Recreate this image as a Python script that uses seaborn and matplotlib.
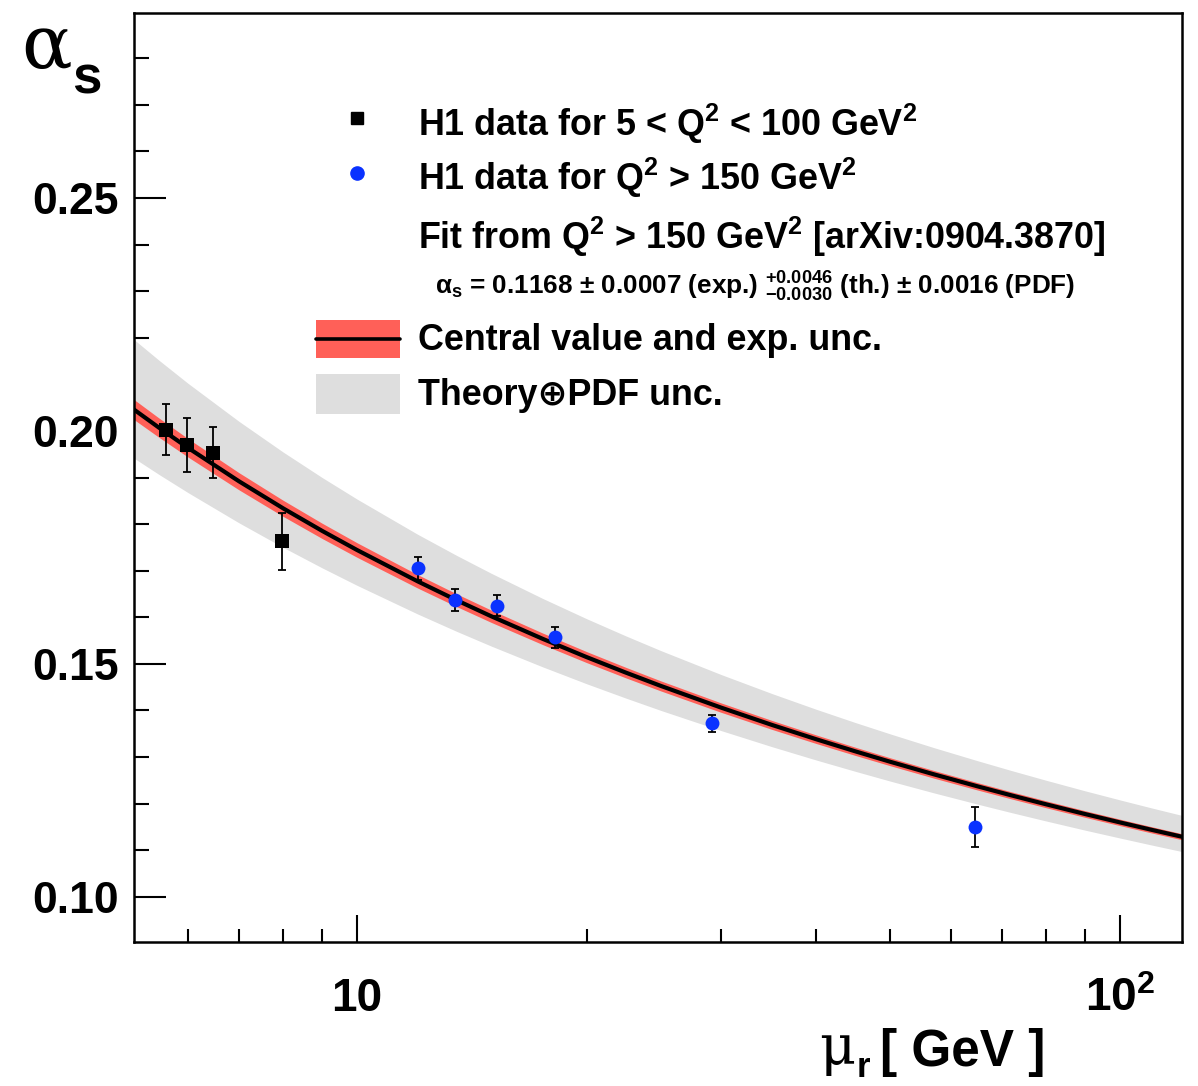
import numpy as np
import pandas as pd
import matplotlib
matplotlib.use("Agg")
import matplotlib.pyplot as plt
import matplotlib.ticker as mticker
from matplotlib.patches import Rectangle
from matplotlib.lines import Line2D
import seaborn as sns

# ---------------- data ----------------
# H1 data, 5 < Q^2 < 100 GeV^2
low_mu = [5.615, 5.98, 6.48, 7.97]
low_as = [0.2003, 0.1969, 0.1953, 0.1763]
low_err = [0.0054, 0.0058, 0.0055, 0.0061]
# H1 data, Q^2 > 150 GeV^2
high_mu = [12.01, 13.45, 15.26, 18.16, 29.2, 64.5]
high_as = [0.1705, 0.1637, 0.1625, 0.1557, 0.1372, 0.1150]
high_err = [0.0025, 0.0023, 0.0023, 0.0022, 0.0018, 0.0043]
# fit curve (hand-smoothed)
curve_mu = [5.1, 5.5, 6, 7, 8, 9, 10, 12, 13.5, 15, 17.5, 20, 22.5, 25, 30, 35,
            40, 45, 50, 57, 65, 72, 80, 90, 100, 110, 120.6]
curve_central = [0.20458, 0.20069, 0.19639, 0.18920, 0.18338, 0.17854, 0.17443,
                 0.16773, 0.16367, 0.16020, 0.15539, 0.15144, 0.14813, 0.14528,
                 0.14061, 0.13688, 0.13381, 0.13122, 0.12898, 0.12630, 0.12373,
                 0.12179, 0.11986, 0.11777, 0.11597, 0.11438, 0.11289]
curve_exp = [0.00215, 0.00207, 0.00198, 0.00184, 0.00173, 0.00164, 0.00156,
             0.00144, 0.00137, 0.00132, 0.00124, 0.00118, 0.00113, 0.00108,
             0.00101, 0.00096, 0.00092, 0.00088, 0.00085, 0.00082, 0.00079,
             0.00076, 0.00074, 0.00071, 0.00069, 0.00067, 0.00065]
curve_th_up = [0.01503, 0.01447, 0.01385, 0.01286, 0.01208, 0.01145, 0.01093,
               0.01010, 0.00962, 0.00922, 0.00867, 0.00824, 0.00788, 0.00758,
               0.00710, 0.00673, 0.00643, 0.00618, 0.00598, 0.00573, 0.00550,
               0.00533, 0.00516, 0.00498, 0.00483, 0.00470, 0.00458]
curve_th_dn = [0.01043, 0.01004, 0.00961, 0.00892, 0.00838, 0.00794, 0.00758,
               0.00701, 0.00668, 0.00640, 0.00602, 0.00572, 0.00547, 0.00526,
               0.00493, 0.00467, 0.00446, 0.00429, 0.00415, 0.00398, 0.00382,
               0.00370, 0.00358, 0.00346, 0.00335, 0.00326, 0.00318]

x_major = [10, 100]
x_major_labels = ["10", r"$\mathbf{10^{2}}$"]
x_minor = [6, 7, 8, 9, 20, 30, 40, 50, 60, 70, 80, 90]
y_major = [0.10, 0.15, 0.20, 0.25]
y_major_labels = ["0.10", "0.15", "0.20", "0.25"]

# ---------------- style ----------------
sns.set_theme(style="ticks")
plt.rcParams["font.family"] = ["Liberation Sans", "DejaVu Sans"]
plt.rcParams["font.weight"] = "bold"
plt.rcParams["text.color"] = "black"
plt.rcParams["axes.labelcolor"] = "black"
plt.rcParams["xtick.color"] = "black"
plt.rcParams["ytick.color"] = "black"
plt.rcParams["axes.edgecolor"] = "black"
plt.rcParams["mathtext.fontset"] = "custom"
plt.rcParams["mathtext.rm"] = "Liberation Sans:bold"
plt.rcParams["mathtext.bf"] = "Liberation Sans:bold"
plt.rcParams["mathtext.it"] = "DejaVu Serif"
plt.rcParams["mathtext.default"] = "rm"

W, H = 1198, 1086
fig = plt.figure(figsize=(W / 100, H / 100), dpi=100)
fig.patch.set_facecolor("white")
L, R, T, B = 134, 1182, 13, 942
ax = fig.add_axes([L / W, 1 - B / H, (R - L) / W, (B - T) / H])
ax.set_facecolor("white")

GRAY = "#dedede"
RED = "#ff6058"
BLUE = "#0a32ff"

c = np.array(curve_central)
ax.fill_between(curve_mu, c - np.array(curve_th_dn), c + np.array(curve_th_up),
                color=GRAY, lw=0, zorder=1)
ax.fill_between(curve_mu, c - np.array(curve_exp), c + np.array(curve_exp),
                color=RED, lw=0, zorder=2)
curve_df = pd.DataFrame({"mu": curve_mu, "alpha": curve_central})
sns.lineplot(data=curve_df, x="mu", y="alpha", ax=ax, color="black", lw=3.0,
             estimator=None, sort=True, zorder=3)

ax.errorbar(low_mu, low_as, yerr=low_err, fmt="none", ecolor="black",
            elinewidth=1.3, capsize=2.8, capthick=1.3, zorder=4)
ax.errorbar(high_mu, high_as, yerr=high_err, fmt="none", ecolor="black",
            elinewidth=1.3, capsize=2.8, capthick=1.3, zorder=4)
low_df = pd.DataFrame({"mu": low_mu, "alpha": low_as})
high_df = pd.DataFrame({"mu": high_mu, "alpha": high_as})
sns.scatterplot(data=low_df, x="mu", y="alpha", ax=ax, marker="s", s=90,
                color="black", linewidth=0, zorder=5)
sns.scatterplot(data=high_df, x="mu", y="alpha", ax=ax, marker="o", s=100,
                color=BLUE, linewidth=0, zorder=5)

# axes
ax.set_xscale("log")
ax.set_xlim(5.1, 120.6)
ax.set_ylim(0.0903, 0.2897)
ax.xaxis.set_major_locator(mticker.FixedLocator(x_major))
ax.xaxis.set_major_formatter(mticker.FixedFormatter(x_major_labels))
ax.xaxis.set_minor_locator(mticker.FixedLocator(x_minor))
ax.xaxis.set_minor_formatter(mticker.NullFormatter())
ax.yaxis.set_major_locator(mticker.FixedLocator(y_major))
ax.yaxis.set_major_formatter(mticker.FixedFormatter(y_major_labels))
ax.yaxis.set_minor_locator(mticker.MultipleLocator(0.01))
ax.set_xlabel("")
ax.set_ylabel("")
for sp in ax.spines.values():
    sp.set_visible(True)
    sp.set_linewidth(1.8)
    sp.set_color("black")
ax.tick_params(axis="x", which="major", direction="in", length=19.5, width=1.5,
               pad=25, labelsize=33, top=False, colors="black")
ax.tick_params(axis="x", which="minor", direction="in", length=9.5, width=1.5,
               top=False, colors="black")
ax.tick_params(axis="y", which="major", direction="in", length=23, width=1.5,
               pad=11, labelsize=32, right=False, colors="black")
ax.tick_params(axis="y", which="minor", direction="in", length=11, width=1.5,
               right=False, colors="black")
for lab in ax.get_xticklabels() + ax.get_yticklabels():
    lab.set_fontweight("bold")
    lab.set_color("black")


def fx(px):
    return px / W


def fy(py):
    return 1 - py / H


# axis titles
fig.text(fx(21), fy(68), "\u03b1", family="DejaVu Serif", fontsize=54,
         fontweight="normal", ha="left", va="baseline")
fig.text(fx(72), fy(94), "s", fontsize=38, fontweight="bold", ha="left", va="baseline")
fig.text(fx(819), fy(1064), "\u03bc", family="DejaVu Serif", fontsize=40,
         fontweight="normal", ha="left", va="baseline")
fig.text(fx(857), fy(1077), "r", fontsize=25, fontweight="bold", ha="left", va="baseline")
fig.text(fx(880), fy(1066), "[ GeV ]", fontsize=37, fontweight="bold", ha="left",
         va="baseline")

# legend
fs = 25.8
fig.add_artist(Line2D([fx(357)], [fy(118)], marker="s", markersize=9, color="black",
                      lw=0, transform=fig.transFigure))
fig.add_artist(Line2D([fx(357)], [fy(173)], marker="o", markersize=9.5, color=BLUE,
                      lw=0, transform=fig.transFigure))
fig.text(fx(418), fy(136), r"H1 data for 5 < Q$^{2}$ < 100 GeV$^{2}$", fontsize=fs,
         fontweight="bold", ha="left", va="baseline")
fig.text(fx(418), fy(190), r"H1 data for Q$^{2}$ > 150 GeV$^{2}$", fontsize=fs,
         fontweight="bold", ha="left", va="baseline")
fig.text(fx(418), fy(249), r"Fit from Q$^{2}$ > 150 GeV$^{2}$ [arXiv:0904.3870]",
         fontsize=fs, fontweight="bold", ha="left", va="baseline")
fig.text(fx(755), fy(295),
         r"$\alpha_{s}$ = 0.1168 $\pm$ 0.0007 (exp.) $^{+0.0046}_{-0.0030}$ (th.) $\pm$ 0.0016 (PDF)",
         fontsize=18.8, fontweight="bold", ha="center", va="baseline")
fig.add_artist(Rectangle((fx(316), fy(358)), 84 / W, 38 / H, transform=fig.transFigure,
                         facecolor=RED, edgecolor="none"))
fig.add_artist(Line2D([fx(316), fx(400)], [fy(339), fy(339)], color="black", lw=2.6,
                      transform=fig.transFigure))
fig.text(fx(418), fy(350), "Central value and exp. unc.", fontsize=fs,
         fontweight="bold", ha="left", va="baseline")
fig.add_artist(Rectangle((fx(316), fy(414)), 84 / W, 40 / H, transform=fig.transFigure,
                         facecolor=GRAY, edgecolor="none"))
fig.text(fx(418), fy(405), "Theory\u2295PDF unc.", fontsize=fs, fontweight="bold",
         ha="left", va="baseline")

fig.savefig("out.png", dpi=100, facecolor="white")
